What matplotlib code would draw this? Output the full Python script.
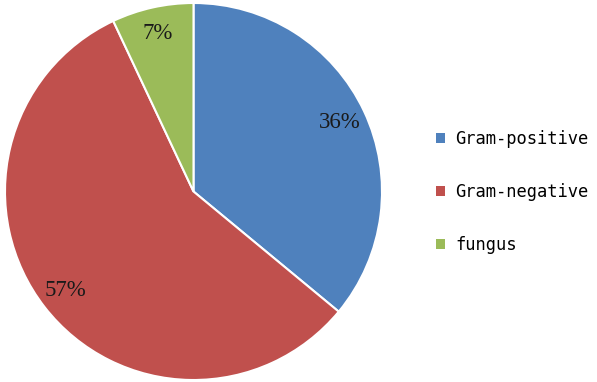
import matplotlib
matplotlib.use("Agg")
from matplotlib import pyplot as plt
from matplotlib.patches import Patch

labels = ["Gram-positive", "Gram-negative", "fungus"]
values = [36, 57, 7]
colors = ["#4F81BD", "#C0504D", "#9BBB59"]

fig = plt.figure(figsize=(5.97, 3.82), dpi=100)
ax = fig.add_axes([5 / 597, 2 / 382, 377 / 597, 377 / 382])

wedges, texts, autotexts = ax.pie(
    values, colors=colors, startangle=90, counterclock=False,
    autopct="%d%%", pctdistance=0.86,
    wedgeprops={"edgecolor": "white", "linewidth": 1.5},
    textprops={"family": "Liberation Serif", "fontsize": 16.5, "color": "#1a1a1a"},
)
ax.set_xlim(-1.0, 1.0)
ax.set_ylim(-1.0, 1.0)
ax.set_aspect("equal")

handles = [Patch(facecolor=c, edgecolor="none") for c in colors]
fig.legend(handles, labels, loc="center left", bbox_to_anchor=(436 / 597, 0.497),
           frameon=False, prop={"family": "DejaVu Sans Mono", "size": 12.3},
           borderaxespad=0, borderpad=0,
           handlelength=0.5, handleheight=0.5, handletextpad=0.62,
           labelspacing=2.05)

fig.savefig("out.png", dpi=100)
